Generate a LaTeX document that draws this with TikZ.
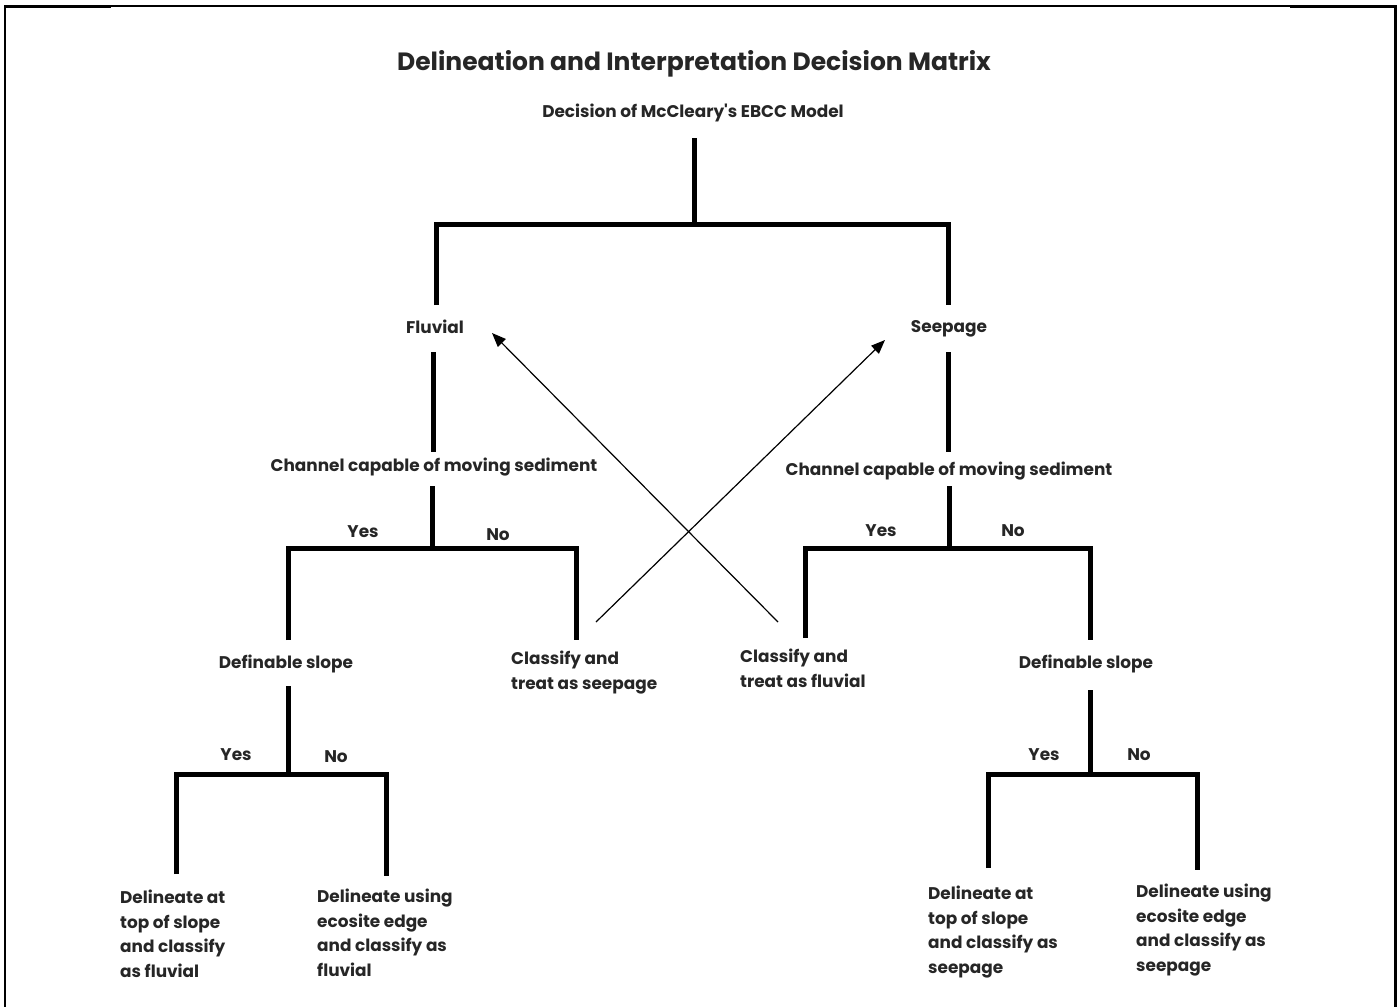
\documentclass[tikz,border=0pt]{standalone}
\usepackage{fontspec}
\setmainfont{Poppins}
\usetikzlibrary{arrows.meta}
\begin{document}
\begin{tikzpicture}[x=1pt,y=-1pt,
  tree/.style={line width=5pt},
  frame/.style={line width=2.5pt},
  lbl/.style={inner sep=0pt, font=\bfseries\fontsize{16.9}{24.6}\selectfont, text=black!85},
  multi/.style={lbl, align=left, anchor=north west},
  arr/.style={line width=1.2pt, -{Triangle[length=14pt,width=11pt]}}]
\useasboundingbox (0,0) rectangle (1398,1007);
% frame
\draw[line width=1.2pt] (5,6) -- (1395,6);
\draw[line width=3pt] (4,6.5) -- (111,6.5);
\draw[line width=3pt] (1290,6.5) -- (1396,6.5);
\draw[frame] (5,5) -- (5,1007);
\draw[line width=3pt] (1395,5) -- (1395,1007);
% texts
\node[lbl, font=\bfseries\fontsize{25}{30}\selectfont] (title) at (694,64) {Delineation and Interpretation Decision Matrix};
\node[lbl] (root) at (693,113) {Decision of McCleary\textquotesingle s EBCC Model};
\node[lbl] (fluv) at (435,327) {Fluvial};
\node[lbl] (seep) at (949,329) {Seepage};
\node[lbl] (chL) at (434,467) {Channel capable of moving sediment};
\node[lbl] (chR) at (949,471) {Channel capable of moving sediment};
\node[lbl] (yesL) at (363,532) {Yes};
\node[lbl] (noL) at (498,535) {No};
\node[lbl] (yesR) at (881,531) {Yes};
\node[lbl] (noR) at (1013,531) {No};
\node[lbl] (slL) at (286,664) {Definable slope};
\node[lbl] (slR) at (1086,664) {Definable slope};
\node[multi] (clS) at (511,651) {Classify and\\treat as seepage};
\node[multi] (clF) at (740,649) {Classify and\\treat as fluvial};
\node[lbl] (yesLL) at (236,755) {Yes};
\node[lbl] (noLL) at (336,757) {No};
\node[lbl] (yesRR) at (1044,755) {Yes};
\node[lbl] (noRR) at (1139,755) {No};
\node[multi] (leafA) at (120,890) {Delineate at\\top of slope\\and classify\\as fluvial};
\node[multi] (leafB) at (317,889) {Delineate using\\ecosite edge\\and classify as\\fluvial};
\node[multi] (leafC) at (928,886) {Delineate at\\top of slope\\and classify as\\seepage};
\node[multi] (leafD) at (1136,884) {Delineate using\\ecosite edge\\and classify as\\seepage};
% junction coordinates
\coordinate (r0) at (694,138);
\coordinate (r1) at (694,224);
\coordinate (fa) at (436,224); \coordinate (fb) at (436,305);
\coordinate (sa) at (948,224); \coordinate (sb) at (948,305);
\coordinate (fc) at (433,352); \coordinate (fd) at (433,452);
\coordinate (sc) at (948,352); \coordinate (sd) at (948,452);
\coordinate (lc) at (432,486); \coordinate (lj) at (432,548);
\coordinate (la) at (288,548); \coordinate (la2) at (288,640);
\coordinate (lb) at (576,548); \coordinate (lb2) at (576,640);
\coordinate (rc) at (949,486); \coordinate (rj) at (949,548);
\coordinate (ra) at (805,548); \coordinate (ra2) at (805,638);
\coordinate (rb) at (1090,548); \coordinate (rb2) at (1090,640);
\coordinate (llc) at (288,686); \coordinate (llj) at (288,774);
\coordinate (lla) at (176,774); \coordinate (lla2) at (176,874);
\coordinate (llb) at (386,774); \coordinate (llb2) at (386,876);
\coordinate (rrc) at (1090,690); \coordinate (rrj) at (1090,774);
\coordinate (rra) at (988,774); \coordinate (rra2) at (988,868);
\coordinate (rrb) at (1197,774); \coordinate (rrb2) at (1197,870);
% tree
\draw[tree] (r0) -- (r1);
\draw[tree] (fb) -- (fa) -- (sa) -- (sb);
\draw[tree] (fc) -- (fd);
\draw[tree] (sc) -- (sd);
\draw[tree] (lc) -- (lj);
\draw[tree] (la2) -- (la) -- (lb) -- (lb2);
\draw[tree] (rc) -- (rj);
\draw[tree] (ra2) -- (ra) -- (rb) -- (rb2);
\draw[tree] (llc) -- (llj);
\draw[tree] (lla2) -- (lla) -- (llb) -- (llb2);
\draw[tree] (rrc) -- (rrj);
\draw[tree] (rra2) -- (rra) -- (rrb) -- (rrb2);
% cross arrows
\coordinate (s1) at (596,622); \coordinate (e1) at (885,340);
\coordinate (s2) at (778,622); \coordinate (e2) at (492,333);
\draw[arr] (s1) -- (e1);
\draw[arr] (s2) -- (e2);
\end{tikzpicture}
\end{document}
